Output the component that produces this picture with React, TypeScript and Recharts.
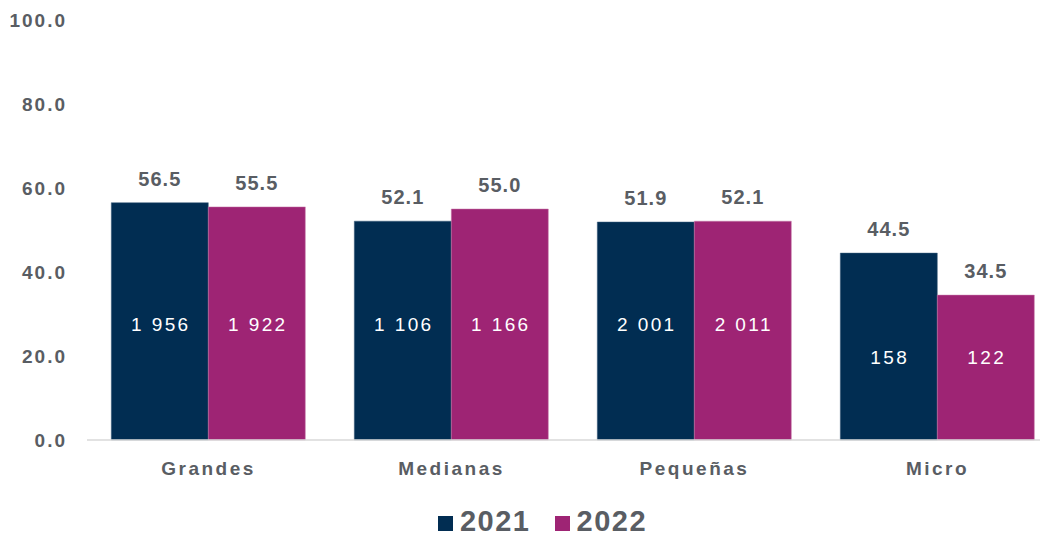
import { Bar, BarChart, LabelList, Legend, XAxis, YAxis } from 'recharts';

const categories = ['Grandes', 'Medianas', 'Pequeñas', 'Micro'];
const share2021 = [56.5, 52.1, 51.9, 44.5];
const share2022 = [55.5, 55.0, 52.1, 34.5];
const count2021 = [1956, 1106, 2001, 158];
const count2022 = [1922, 1166, 2011, 122];
// height (in axis units) where the count label sits inside each bar
const countLevel = [27.6, 27.6, 27.6, 19.7];
const yTicks = [0, 20, 40, 60, 80, 100];

const NAVY = '#012d52';
const MAGENTA = '#9e2474';
const GREY = '#595d63';

const data = categories.map((name, i) => ({
  name,
  y2021: share2021[i],
  y2022: share2022[i],
  c2021: count2021[i],
  c2022: count2022[i],
  level: countLevel[i]
}));

const fmtCount = (n: number) => String(n).replace(/\B(?=(\d{3})+(?!\d))/g, ' ');

function countLabel(key: 'c2021' | 'c2022', valueKey: 'y2021' | 'y2022') {
  return (props: any) => {
    const { x, y, width, height, index } = props;
    const row = data[index];
    const bottom = y + height;
    const cy = bottom - (row.level / row[valueKey]) * height;
    return (
      <text
        x={x + width / 2 + 1}
        y={cy}
        textAnchor="middle"
        dominantBaseline="central"
        fill="#ffffff"
        fontSize={19}
        letterSpacing={2.4}
        fontFamily="Liberation Sans, Arial, sans-serif"
      >
        {fmtCount(row[key])}
      </text>
    );
  };
}

function LegendContent() {
  const items = [
    { label: '2021', color: NAVY },
    { label: '2022', color: MAGENTA }
  ];
  return (
    <div style={{ display: 'flex', justifyContent: 'center', gap: 24, paddingLeft: 26, marginTop: 7 }}>
      {items.map((it) => (
        <div key={it.label} style={{ display: 'flex', alignItems: 'center' }}>
          <span style={{ width: 15, height: 15, background: it.color, display: 'inline-block', marginRight: 7, marginTop: 4 }} />
          <span
            style={{
              fontSize: 29,
              fontWeight: 700,
              letterSpacing: 1.5,
              color: GREY,
              fontFamily: 'Liberation Sans, Arial, sans-serif'
            }}
          >
            {it.label}
          </span>
        </div>
      ))}
    </div>
  );
}

export default function App() {
  const font = 'Liberation Sans, Arial, sans-serif';
  return (
    <div style={{ width: 1048, height: 539, overflow: 'hidden', margin: '-8px 0 0 -8px', background: '#fff' }}>
      <BarChart
        width={1080}
        height={539}
        data={data}
        margin={{ top: 20, right: 21, bottom: 0, left: 0 }}
        barCategoryGap="10%"
        barGap={0}
      >
        <XAxis
          dataKey="name"
          axisLine={{ stroke: '#d9d9d9', strokeWidth: 1.5 }}
          tickLine={false}
          height={58}
          tickMargin={16}
          tick={{ fill: GREY, fontSize: 19, fontWeight: 700, letterSpacing: 2.5, fontFamily: font }}
        />
        <YAxis
          width={87}
          domain={[0, 100]}
          ticks={yTicks}
          axisLine={false}
          tickLine={false}
          tickSize={0}
          tickMargin={20}
          tickFormatter={(v: number) => v.toFixed(1)}
          tick={{ fill: GREY, fontSize: 19, fontWeight: 700, letterSpacing: 2, fontFamily: font }}
        />
        <Legend verticalAlign="bottom" height={41} content={<LegendContent />} />
        <Bar dataKey="y2021" fill={NAVY} stroke="#3d5f7d" strokeWidth={0.5} isAnimationActive={false}>
          <LabelList
            dataKey="y2021"
            position="top"
            offset={17}
            formatter={(v: number) => v.toFixed(1)}
            style={{ fill: GREY, fontSize: 20, fontWeight: 700, letterSpacing: 1, fontFamily: font }}
          />
          <LabelList dataKey="c2021" content={countLabel('c2021', 'y2021')} />
        </Bar>
        <Bar dataKey="y2022" fill={MAGENTA} stroke="#c77aa8" strokeWidth={0.5} isAnimationActive={false}>
          <LabelList
            dataKey="y2022"
            position="top"
            offset={17}
            formatter={(v: number) => v.toFixed(1)}
            style={{ fill: GREY, fontSize: 20, fontWeight: 700, letterSpacing: 1, fontFamily: font }}
          />
          <LabelList dataKey="c2022" content={countLabel('c2022', 'y2022')} />
        </Bar>
      </BarChart>
    </div>
  );
}
